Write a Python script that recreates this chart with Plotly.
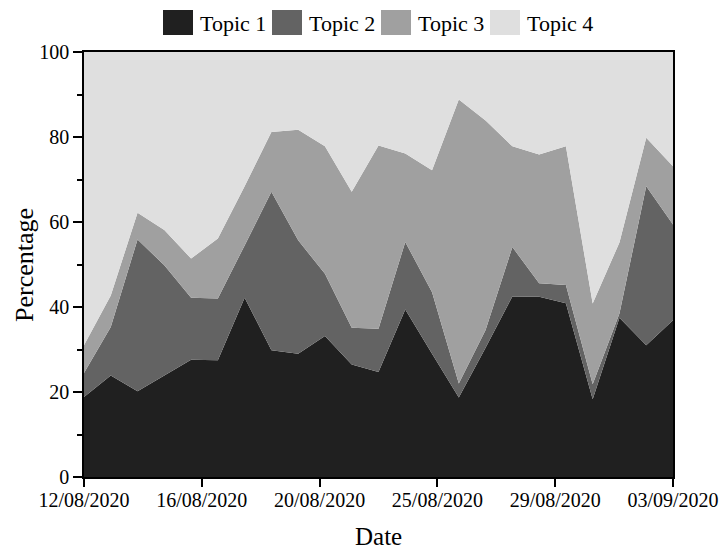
import plotly.graph_objects as go
from datetime import datetime

dates = ["2020-08-12", "2020-08-13", "2020-08-14", "2020-08-15", "2020-08-16",
         "2020-08-17", "2020-08-18", "2020-08-19", "2020-08-20", "2020-08-21",
         "2020-08-22", "2020-08-23", "2020-08-24", "2020-08-25", "2020-08-26",
         "2020-08-27", "2020-08-28", "2020-08-29", "2020-08-30", "2020-08-31",
         "2020-09-01", "2020-09-02", "2020-09-03"]

topic1 = [18.8, 23.9, 20.2, 24.0, 27.6, 27.5, 42.2, 29.8, 29.0, 33.2, 26.5, 24.7,
          39.4, 29.0, 18.7, 30.4, 42.5, 42.4, 40.9, 18.3, 37.5, 31.0, 36.9]
topic2 = [5.7, 11.4, 35.7, 25.8, 14.6, 14.5, 12.3, 37.3, 26.7, 14.6, 8.6, 10.2,
          15.9, 14.5, 3.3, 4.2, 11.6, 3.2, 4.3, 3.5, 1.0, 37.4, 22.5]
topic3 = [6.5, 7.4, 6.3, 8.3, 9.2, 14.1, 13.9, 14.1, 26.0, 30.0, 32.0, 43.1,
          20.8, 28.7, 66.8, 49.3, 23.7, 30.3, 32.6, 19.0, 16.7, 11.4, 13.7]
topic4 = [69.0, 57.3, 37.8, 41.9, 48.6, 43.9, 31.6, 18.8, 18.3, 22.2, 32.9, 22.0,
          23.9, 27.8, 11.2, 16.1, 22.2, 24.1, 22.2, 59.2, 44.8, 20.2, 26.9]

series_names = ["Topic 1", "Topic 2", "Topic 3", "Topic 4"]
series_values = [topic1, topic2, topic3, topic4]
colors = ["#202020", "#636363", "#a0a0a0", "#dfdfdf"]

FONT = "Liberation Serif"

fig = go.Figure()
for name, vals, col in zip(series_names, series_values, colors):
    fig.add_trace(go.Scatter(
        x=dates, y=vals, name=name, mode="lines",
        stackgroup="one", line=dict(width=0, color=col),
        fillcolor=col, showlegend=False,
    ))

# ticks: 6 evenly spaced positions across the date span, labelled by day
start = datetime.strptime(dates[0], "%Y-%m-%d")
end = datetime.strptime(dates[-1], "%Y-%m-%d")
span = end - start
tickvals = [start + span * k / 5 for k in range(6)]
ticktext = [t.strftime("%d/%m/%Y") for t in tickvals]

W, H = 721, 550
L, R, T, B = 84, 673, 52, 477  # plot box in window pixels


def px(x):
    return (x - L) / (R - L)


def py(y):
    return (B - y) / (B - T)


# custom legend
sw_x = [163, 272, 381, 490]
for name, col, sx in zip(series_names, colors, sw_x):
    fig.add_shape(type="rect", xref="paper", yref="paper",
                  x0=px(sx), x1=px(sx + 30), y0=py(35), y1=py(10),
                  fillcolor=col, line=dict(width=0))
    fig.add_annotation(xref="paper", yref="paper", x=px(sx + 35), y=py(23),
                       text=name, showarrow=False, xanchor="left", yanchor="middle",
                       font=dict(family=FONT, size=22, color="black"))

# axis titles
fig.add_annotation(xref="paper", yref="paper", x=0.5, y=py(536),
                   text="Date", showarrow=False, xanchor="center", yanchor="middle",
                   font=dict(family=FONT, size=25, color="black"))
fig.add_annotation(xref="paper", yref="paper", x=px(24), y=py(265),
                   text="Percentage", showarrow=False, textangle=-90,
                   xanchor="center", yanchor="middle",
                   font=dict(family=FONT, size=26, color="black"))

fig.update_layout(
    width=W, height=H,
    margin=dict(l=L, r=W - R, t=T, b=H - B, autoexpand=False),
    paper_bgcolor="white", plot_bgcolor="white",
    font=dict(family=FONT, size=20, color="black"),
    xaxis=dict(
        type="date", range=[dates[0], dates[-1]],
        tickvals=tickvals, ticktext=ticktext, automargin=False,
        showgrid=False, zeroline=False,
        showline=True, linecolor="black", linewidth=1.5, mirror=True,
        ticks="outside", ticklen=8, tickwidth=1.5, tickcolor="black",
        ticklabelstandoff=-4,
        tickfont=dict(family=FONT, size=20),
    ),
    yaxis=dict(
        range=[0, 100], tickvals=[0, 20, 40, 60, 80, 100], automargin=False,
        showgrid=False, zeroline=False,
        showline=True, linecolor="black", linewidth=1.5, mirror=True,
        ticks="outside", ticklen=9, tickwidth=1.5, tickcolor="black",
        tickfont=dict(family=FONT, size=20),
        minor=dict(tickvals=[10, 30, 50, 70, 90], ticks="outside", ticklen=5,
                   tickwidth=1.5, tickcolor="black", showgrid=False),
    ),
)

fig.write_html(
    "out.html",
    config={"displayModeBar": False},
    post_script="document.body.style.margin='0';document.body.style.overflow='hidden';",
)
